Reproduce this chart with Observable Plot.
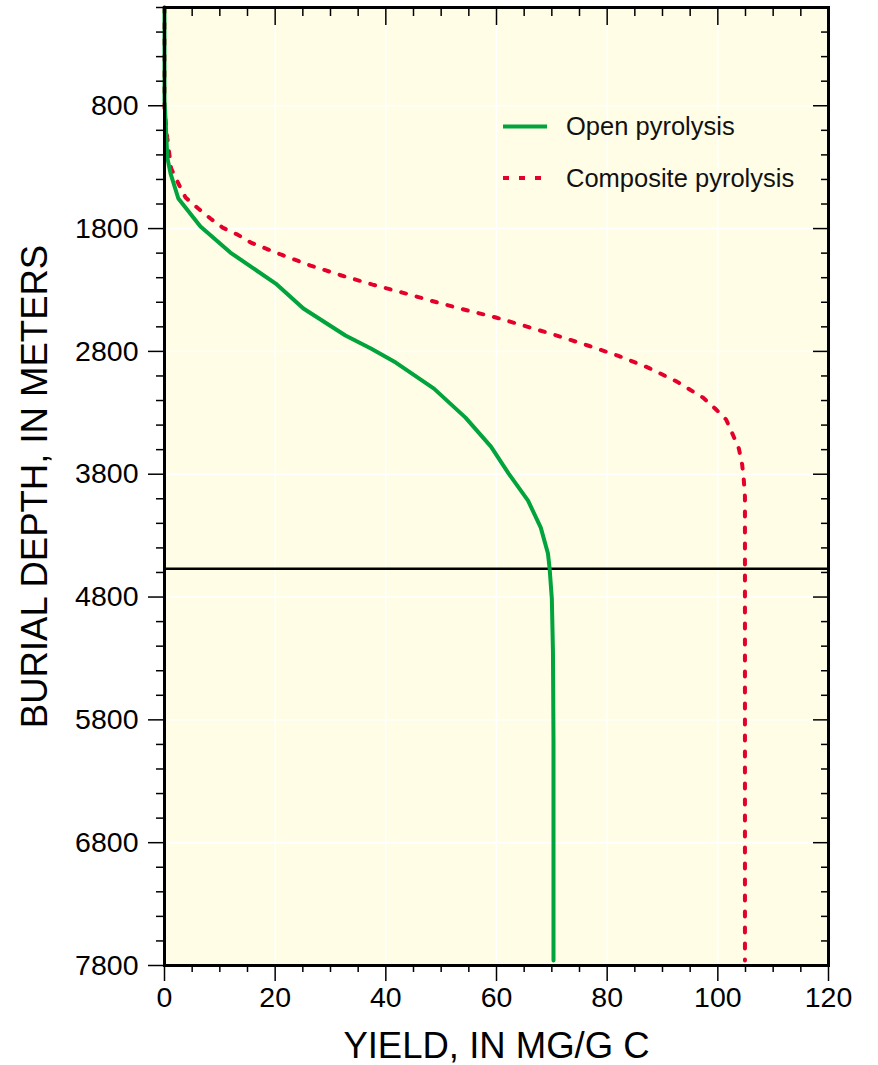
<!DOCTYPE html>
<html><head><meta charset="utf-8">
<script src="https://cdn.jsdelivr.net/npm/d3@7"></script>
<script src="https://cdn.jsdelivr.net/npm/@observablehq/plot@0.6"></script>
<style>
body{margin:0;background:#fff;}
#wrap{position:relative;width:878px;height:1065px;}
</style></head><body><div id="wrap"></div>
<script>
// Open pyrolysis (yield mg/g C vs burial depth m)
const openYield = [0, 0, 0.2, 0.5, 1.1, 2.5, 6.5, 11.9, 20.1, 25.1, 32.7, 37.3, 41.8, 48.7, 54.4, 59.0, 62.2, 65.7, 68.0, 69.3, 69.6, 70.0, 70.2, 70.3, 70.3];
const openDepth = [0, 757, 920, 1221, 1352, 1555, 1783, 1995, 2248, 2451, 2671, 2777, 2891, 3103, 3339, 3575, 3795, 4015, 4235, 4446, 4568, 4813, 5236, 5969, 7760];
// Composite pyrolysis
const compYield = [0, 0, 0.5, 1.2, 2.5, 3.8, 6.1, 8.3, 10.5, 13.2, 15.6, 21.0, 26.4, 32.0, 37.6, 43.0, 48.7, 54.1, 59.9, 65.5, 70.9, 76.5, 81.9, 87.4, 92.6, 97.3, 99.5, 101.5, 102.7, 103.8, 104.4, 104.7, 104.9, 104.9];
const compDepth = [0, 840, 1060, 1310, 1433, 1547, 1637, 1718, 1792, 1849, 1914, 2011, 2101, 2182, 2256, 2321, 2394, 2459, 2524, 2598, 2671, 2752, 2834, 2932, 3046, 3176, 3265, 3355, 3477, 3591, 3722, 3852, 3982, 7760];
const boundaryDepth = [4570];
const xTicks = [0, 20, 40, 60, 80, 100, 120];
const yTicks = [800, 1800, 2800, 3800, 4800, 5800, 6800, 7800];
const xMinor = d3.range(0, 121, 5).filter(d => !xTicks.includes(d));
const yMinor = d3.range(0, 7801, 200).filter(d => !yTicks.includes(d));
const seriesNames = ["Open pyrolysis", "Composite pyrolysis"];
const xLabel = "YIELD, IN MG/G C";
const yLabel = "BURIAL DEPTH, IN METERS";

const GREEN = "#00a33c", RED = "#e4002b", BG = "#fffde6";
const FONT = "'Liberation Sans', Arial, sans-serif";
const openData = openDepth.map((d, i) => ({depth: d, yield: openYield[i]}));
const compData = compDepth.map((d, i) => ({depth: d, yield: compYield[i]}));

const chart = Plot.plot({
  width: 878, height: 1065,
  marginLeft: 164, marginRight: 50, marginTop: 7, marginBottom: 100,
  x: {domain: [0, 120]},
  y: {domain: [0, 7800], reverse: true},
  style: {fontFamily: FONT, color: "black", background: "white", overflow: "visible"},
  marks: [
    Plot.frame({fill: BG, stroke: null}),
    Plot.gridX({ticks: xTicks, stroke: "white", strokeOpacity: 1, strokeWidth: 1.5}),
    Plot.gridY({ticks: yTicks, stroke: "white", strokeOpacity: 1, strokeWidth: 1.5}),
    Plot.ruleY(boundaryDepth, {stroke: "black", strokeWidth: 2.5}),
    Plot.line(compData, {x: "yield", y: "depth", stroke: RED, strokeWidth: 4, strokeDasharray: "5 11"}),
    Plot.line(openData, {x: "yield", y: "depth", stroke: GREEN, strokeWidth: 4}),
    Plot.frame({stroke: "black", strokeWidth: 3}),
    // left axis
    Plot.axisY({ticks: yTicks, anchor: "left", tickSize: 16, tickPadding: 10, fontSize: 28.5, strokeWidth: 1.5, label: null, tickFormat: d => String(d)}),
    Plot.axisY({ticks: yMinor, anchor: "left", tickSize: 8, strokeWidth: 1.5, fill: "none", label: null}),
    // right axis (inward)
    Plot.axisY({ticks: yTicks, anchor: "right", tickSize: 16, dx: -16, strokeWidth: 1.5, fill: "none", label: null}),
    Plot.axisY({ticks: yMinor, anchor: "right", tickSize: 8, dx: -8, strokeWidth: 1.5, fill: "none", label: null}),
    // bottom axis
    Plot.axisX({ticks: xTicks, anchor: "bottom", tickSize: 16, tickPadding: 5, fontSize: 28.5, strokeWidth: 1.5, label: null, tickFormat: d => String(d)}),
    Plot.axisX({ticks: xMinor, anchor: "bottom", tickSize: 7, strokeWidth: 1.5, fill: "none", label: null}),
    // top axis (inward)
    Plot.axisX({ticks: xTicks, anchor: "top", tickSize: 17, dy: 17, strokeWidth: 1.5, fill: "none", label: null}),
    Plot.axisX({ticks: xMinor, anchor: "top", tickSize: 8, dy: 8, strokeWidth: 1.5, fill: "none", label: null}),
    // axis titles
    Plot.text([xLabel], {text: d => d, frameAnchor: "bottom", textAnchor: "middle", dy: 92, fontSize: 36.5}),
    Plot.text([yLabel], {text: d => d, frameAnchor: "left", textAnchor: "middle", lineAnchor: "middle", dx: -129, rotate: -90, fontSize: 36.5})
  ]
});
document.getElementById("wrap").appendChild(chart);

// legend (inside plot area)
const ns = "http://www.w3.org/2000/svg";
const lg = document.createElementNS(ns, "svg");
lg.setAttribute("width", 320); lg.setAttribute("height", 100);
lg.style.position = "absolute"; lg.style.left = "495px"; lg.style.top = "100px";
const rows = [
  {name: seriesNames[0], color: GREEN, dash: null, y: 26.5, x2: 52},
  {name: seriesNames[1], color: RED, dash: "6 10", y: 78, x2: 46}
];
rows.forEach(r => {
  const l = document.createElementNS(ns, "line");
  l.setAttribute("x1", 8); l.setAttribute("x2", r.x2);
  l.setAttribute("y1", r.y); l.setAttribute("y2", r.y);
  l.setAttribute("stroke", r.color); l.setAttribute("stroke-width", 4);
  if (r.dash) l.setAttribute("stroke-dasharray", r.dash);
  lg.appendChild(l);
  const t = document.createElementNS(ns, "text");
  t.setAttribute("x", 71); t.setAttribute("y", r.y + 8.5);
  t.setAttribute("font-family", FONT);
  t.setAttribute("font-size", 25.5);
  t.setAttribute("fill", "#111");
  t.textContent = r.name;
  lg.appendChild(t);
});
document.getElementById("wrap").appendChild(lg);
</script></body></html>
